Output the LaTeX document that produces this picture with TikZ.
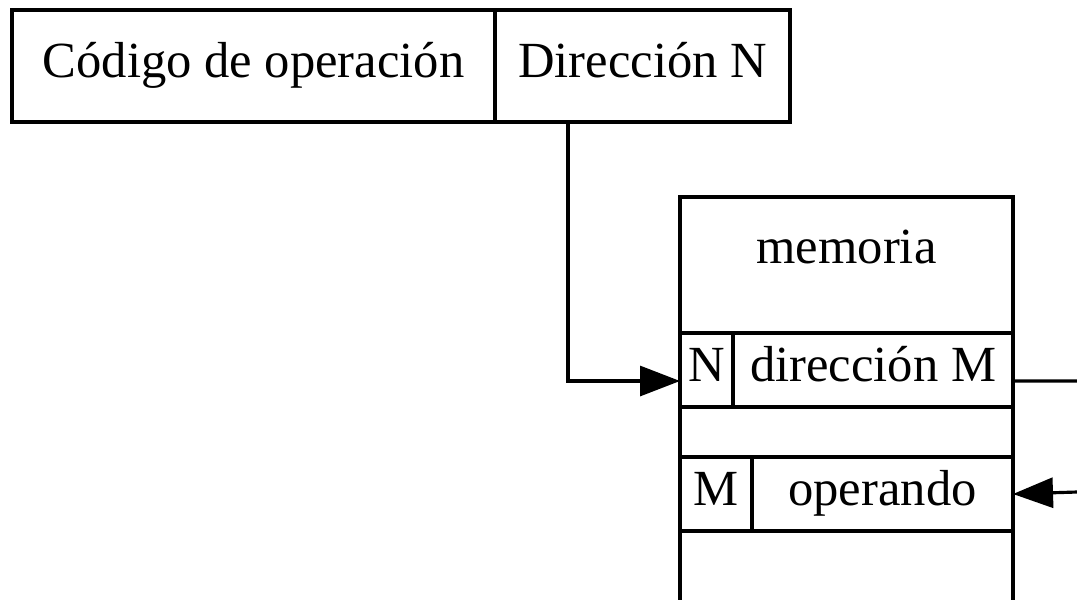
\documentclass[tikz,border=0pt]{standalone}
\usepackage{fontspec}
\setmainfont{Liberation Serif}
\usepackage{tikz}
\usetikzlibrary{positioning}
\usetikzlibrary{arrows.meta}
\tikzset {
  % boxes of the instruction and of the memory
  cell/.style = {draw, rectangle, inner sep=0pt, outer sep=0pt, line width=0.9pt,
                 font=\fontsize{14.4}{17}\selectfont, text height=0.7em, text depth=0.02em},
  row/.style = {cell, minimum height=0.74cm},
  % connectors
  link/.style = {line width=0.9pt},
  arrowlink/.style = {link, -{Triangle[length=4mm, width=3mm]}},
}
\begin{document}
\begin{tikzpicture}
        \useasboundingbox (0,0) rectangle (10.77,-6);

        % instruction
        \node[cell, minimum width=4.83cm, minimum height=1.12cm] (opcode) at (2.535,-0.66) {Código de operación};
        \node[cell, minimum width=2.95cm, minimum height=1.12cm, right=0pt of opcode] (dirN) {Dirección N};

        % memory
        \node[cell, minimum width=3.33cm, minimum height=1.36cm] (memtop) at (8.465,-2.65) {};
        \node[cell, draw=none] (memname) at ([yshift=-0.55cm]memtop.north) {memoria};
        \node[row, minimum width=0.53cm, anchor=north west] (cellN) at (memtop.south west) {N};
        \node[row, minimum width=2.80cm, right=0pt of cellN] (dirM) {dirección M};
        \node[cell, minimum width=3.33cm, minimum height=0.50cm, anchor=north west] (gap) at (cellN.south west) {};
        \node[row, minimum width=0.72cm, anchor=north west] (cellM) at (gap.south west) {M};
        \node[row, minimum width=2.61cm, right=0pt of cellM] (operand) {operando};
        \coordinate (memend) at (0,-6);
        \draw[link] (cellM.south west) -- (cellM.south west |- memend);
        \draw[link] (operand.south east) -- (operand.south east |- memend);

        % connectors
        \coordinate (outR) at (10.77,-3.81);
        \coordinate (inR) at (10.77,-4.92);
        \draw[arrowlink] ([xshift=-0.745cm]dirN.south) |- ([yshift=-0.11cm]cellN.west);
        \draw[link] ([yshift=-0.11cm]dirM.east) -- (outR);
        \draw[arrowlink] (inR) -- (operand.east);
\end{tikzpicture}
\end{document}
